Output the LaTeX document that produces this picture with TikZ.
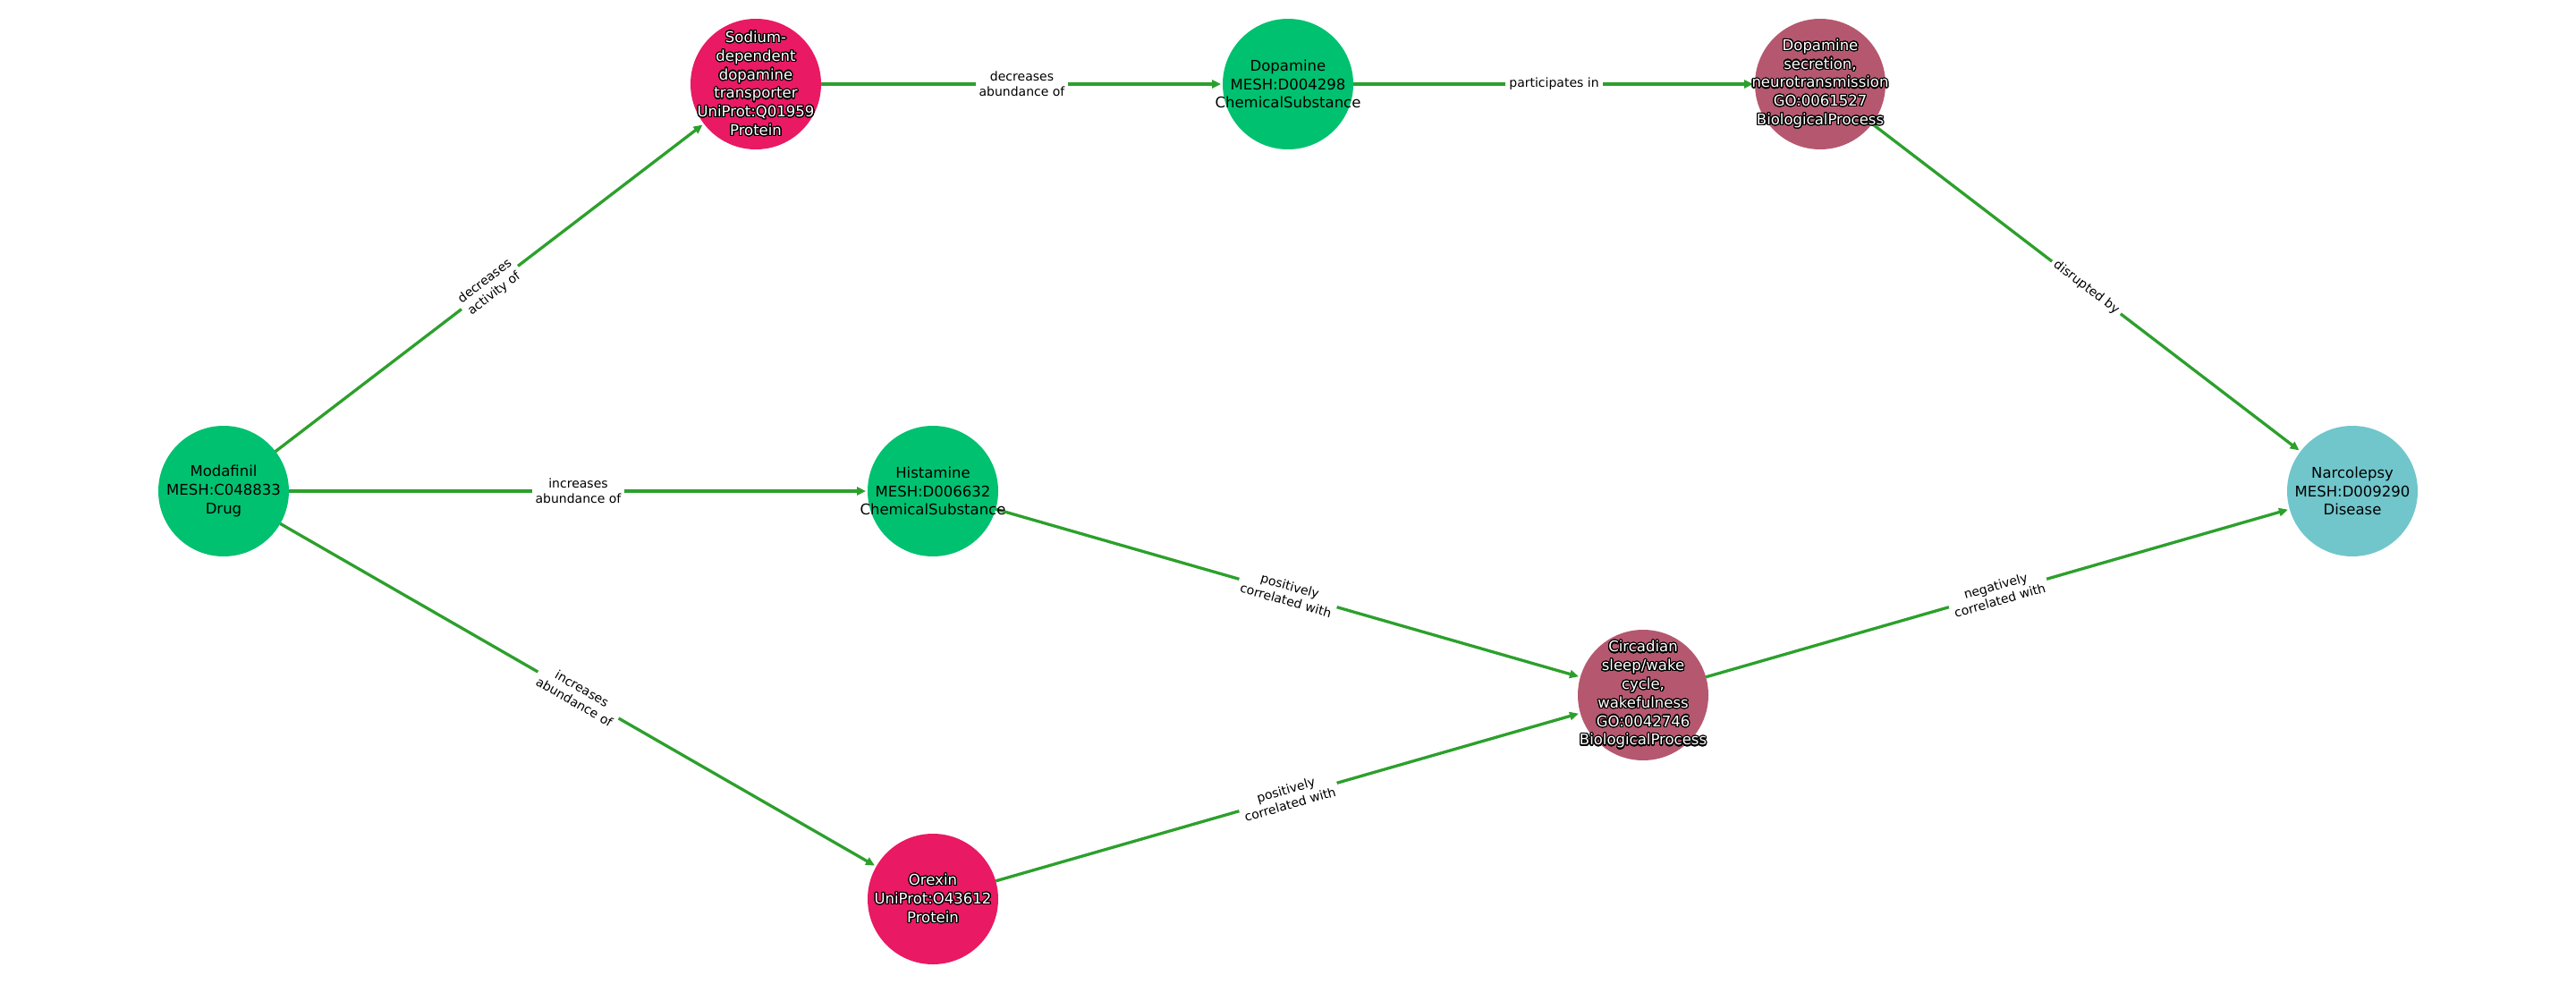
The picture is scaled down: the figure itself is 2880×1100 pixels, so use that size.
\documentclass[tikz,border=0pt]{standalone}
\usepackage{fontspec}
\setmainfont{DejaVu Sans}
\usepackage[copies]{contour}
\contourlength{1.2pt}
\contournumber{24}
\usetikzlibrary{arrows.meta}
\definecolor{cgreen}{HTML}{00C170}
\definecolor{cmagenta}{HTML}{E91963}
\definecolor{cmauve}{HTML}{B5586F}
\definecolor{cteal}{HTML}{70C6CB}
\definecolor{egreen}{HTML}{2CA02C}
\newcommand\wl[1]{\contour{black}{#1}}
\tikzset{
 circ/.style={circle, minimum size=146pt, inner sep=0pt, outer sep=0pt, draw=none},
 ntext/.style={align=center, font=\fontsize{16.5}{20.8}\selectfont, inner sep=0pt, text=black},
 wtext/.style={ntext, text=white},
 edge/.style={draw=egreen, line width=3.3pt, shorten >=2pt, -{Triangle[length=10pt,width=9pt]}},
 elbl/.style={sloped, fill=white, font=\fontsize{14}{17}\selectfont, align=center, inner xsep=4pt, inner ysep=2pt, text=black},
}
\begin{document}
\begin{tikzpicture}[x=1pt,y=-1pt]
\fill[white] (0,0) rectangle (2880,1100);
\useasboundingbox (0,0) rectangle (2880,1100);
% circles
\node[circ, fill=cgreen]   (M)  at (250,549)  {};
\node[circ, fill=cmagenta] (S)  at (845,94)   {};
\node[circ, fill=cgreen]   (D)  at (1440,94)  {};
\node[circ, fill=cmauve]   (DS) at (2035,94)  {};
\node[circ, fill=cgreen]   (H)  at (1043,549) {};
\node[circ, fill=cteal]    (N)  at (2630,549) {};
\node[circ, fill=cmauve]   (C)  at (1837,777) {};
\node[circ, fill=cmagenta] (O)  at (1043,1005) {};
% edges
\draw[edge] (M) -- node[elbl] (e1) {decreases\\activity of} (S);
\draw[edge] (M) -- node[elbl] (e2) {increases\\abundance of} (H);
\draw[edge] (M) -- node[elbl] (e3) {increases\\abundance of} (O);
\draw[edge] (S) -- node[elbl] (e4) {decreases\\abundance of} (D);
\draw[edge] (D) -- node[elbl] (e5) {participates in} (DS);
\draw[edge] (DS) -- node[elbl] (e6) {disrupted by} (N);
\draw[edge] (H) -- node[elbl] (e7) {positively\\correlated with} (C);
\draw[edge] (O) -- node[elbl] (e8) {positively\\correlated with} (C);
\draw[edge] (C) -- node[elbl] (e9) {negatively\\correlated with} (N);
% labels
\node[ntext] (Mt) at (M) {Modafinil\\MESH:C048833\\Drug};
\node[wtext] (St) at (S) {\wl{Sodium-}\\\wl{dependent}\\\wl{dopamine}\\\wl{transporter}\\\wl{UniProt:Q01959}\\\wl{Protein}};
\node[ntext] (Dt) at (D) {Dopamine\\MESH:D004298\\ChemicalSubstance};
\node[wtext] (DSt) at (DS) {\wl{Dopamine}\\\wl{secretion,}\\\wl{neurotransmission}\\\wl{GO:0061527}\\\wl{BiologicalProcess}};
\node[ntext] (Ht) at (H) {Histamine\\MESH:D006632\\ChemicalSubstance};
\node[ntext] (Nt) at (N) {Narcolepsy\\MESH:D009290\\Disease};
\node[wtext] (Ct) at (C) {\wl{Circadian}\\\wl{sleep/wake}\\\wl{cycle,}\\\wl{wakefulness}\\\wl{GO:0042746}\\\wl{BiologicalProcess}};
\node[wtext] (Ot) at (O) {\wl{Orexin}\\\wl{UniProt:O43612}\\\wl{Protein}};
\end{tikzpicture}
\end{document}
